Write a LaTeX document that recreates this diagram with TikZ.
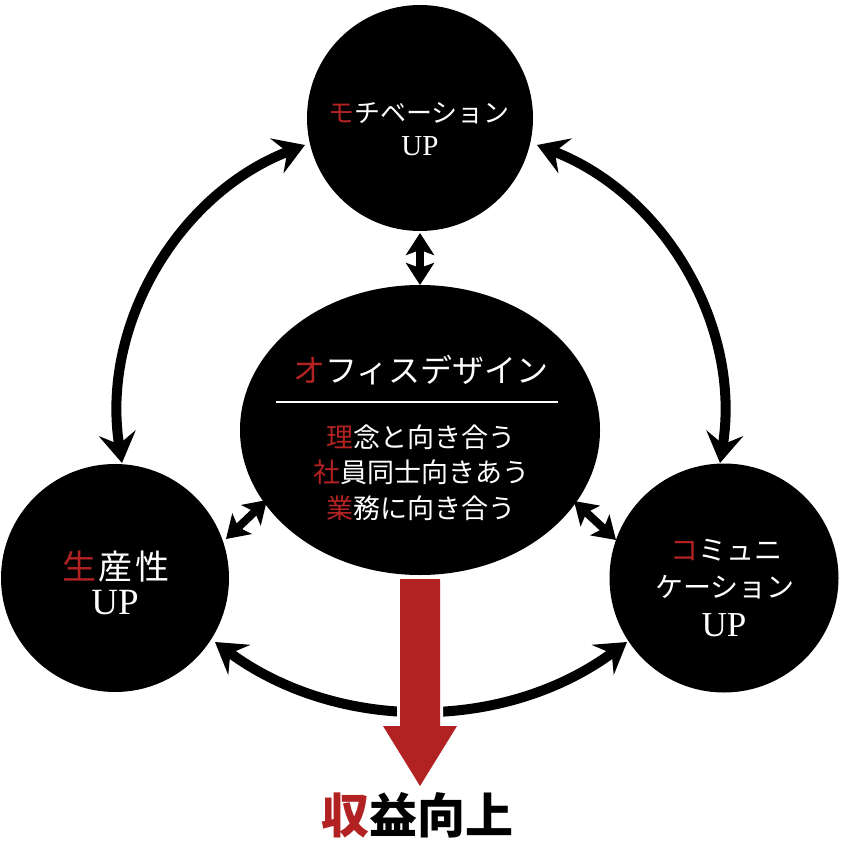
\documentclass[tikz,border=0pt]{standalone}
\usepackage{fontspec}
\usetikzlibrary{arrows.meta,shapes.geometric}
\newfontfamily\jp{Noto Sans CJK JP}
\newfontfamily\upf{Liberation Serif}
\definecolor{jred}{RGB}{178,34,34}
\newcommand\lsp[1]{\addfontfeatures{LetterSpace=#1}}
\newcommand\fs[1]{\fontsize{#1pt}{#1pt}\selectfont}
% red first character, then a kern equal to the letter spacing, then the rest
\newcommand\rtxt[3]{\textcolor{jred}{#1}\kern#2pt\relax#3}
\tikzset{
  blob/.style={fill=black, draw=none, inner sep=0pt},
  bigarr/.style={line width=10pt, {Stealth[length=30pt,width=37pt,inset=11pt]}-{Stealth[length=30pt,width=37pt,inset=11pt]}},
  smallarr/.style={line width=8pt, {Stealth[length=22pt,width=28pt,inset=5pt]}-{Stealth[length=22pt,width=28pt,inset=5pt]}},
  lbl/.style={text=white, inner sep=0pt},
  redarrow/.style={fill=jred, draw=white, line width=6pt, line join=miter}
}
\begin{document}
\begin{tikzpicture}[x=1pt,y=-1pt]
\useasboundingbox[fill=white] (0,0) rectangle (840,848);
% circles
\node[blob, circle, minimum size=226pt] (top) at (420,118) {};
\node[blob, circle, minimum size=228pt] (left) at (115,578) {};
\node[blob, circle, minimum size=229pt] (right) at (724,578) {};
\node[blob, ellipse, minimum width=360pt, minimum height=290pt] (center) at (420,430) {};
% arc end points
\coordinate (lA) at (305,145); \coordinate (lB) at (122,463);
\coordinate (rA) at (537,145); \coordinate (rB) at (720,463);
\coordinate (bL) at (215,642); \coordinate (bR) at (627,642);
\draw[bigarr] (lA) .. controls (176.6,194.5) and (100.3,327.2) .. (lB);
\draw[bigarr] (rA) .. controls (665.4,194.5) and (741.7,327.2) .. (rB);
\draw[bigarr] (bL) .. controls (337.7,732.3) and (504.3,732.3) .. (bR);
% small double arrows
\coordinate (s1a) at (420,233); \coordinate (s1b) at (420,285);
\coordinate (s2a) at (267,500); \coordinate (s2b) at (226,539);
\coordinate (s3a) at (574,501); \coordinate (s3b) at (616,540);
\draw[smallarr] (s1a) -- (s1b);
\draw[smallarr] (s2a) -- (s2b);
\draw[smallarr] (s3a) -- (s3b);
% red arrow
\draw[redarrow] (400,579) -- (440,579) -- (440,726) -- (457,726) -- (420,786) -- (383,726) -- (400,726) -- cycle;
\fill[jred] (400,579) -- (440,579) -- (440,726) -- (457,726) -- (420,786) -- (383,726) -- (400,726) -- cycle;
% top circle text
\node[lbl] (t1) at (419,113) {\jp\fs{26}\rtxt{モ}{0}{チベーション}};
\node[lbl] (t2) at (420,146) {\upf\fs{29}UP};
% left circle text
\node[lbl] (l1) at (116,567) {\jp\fs{34}\lsp{8}\rtxt{生}{2.7}{産性}};
\node[lbl] (l2) at (115,603) {\upf\fs{37}UP};
% right circle text
\node[lbl] (r1) at (726,550) {\jp\fs{28}\rtxt{コ}{0}{ミュニ}};
\node[lbl] (r2) at (725,587) {\jp\fs{28}ケーション};
\node[lbl] (r3) at (724,625) {\upf\fs{35}UP};
% center text
\node[lbl] (c0) at (421,370) {\jp\fs{32}\rtxt{オ}{0}{フィスデザイン}};
\coordinate (ruleA) at (276,402); \coordinate (ruleB) at (558,402);
\draw[white, line width=1.5pt] (ruleA) -- (ruleB);
\node[lbl] (c1) at (421,437) {\jp\fs{27}\rtxt{理}{0}{念と向き合う}};
\node[lbl] (c2) at (421,472) {\jp\fs{27}\rtxt{社}{0}{員同士向きあう}};
\node[lbl] (c3) at (421,508) {\jp\fs{27}\rtxt{業}{0}{務に向き合う}};
% bottom text
\node[inner sep=0pt] (res) at (417,815) {\jp\bfseries\fs{48}\rtxt{収}{0}{益向上}};
\end{tikzpicture}
\end{document}
